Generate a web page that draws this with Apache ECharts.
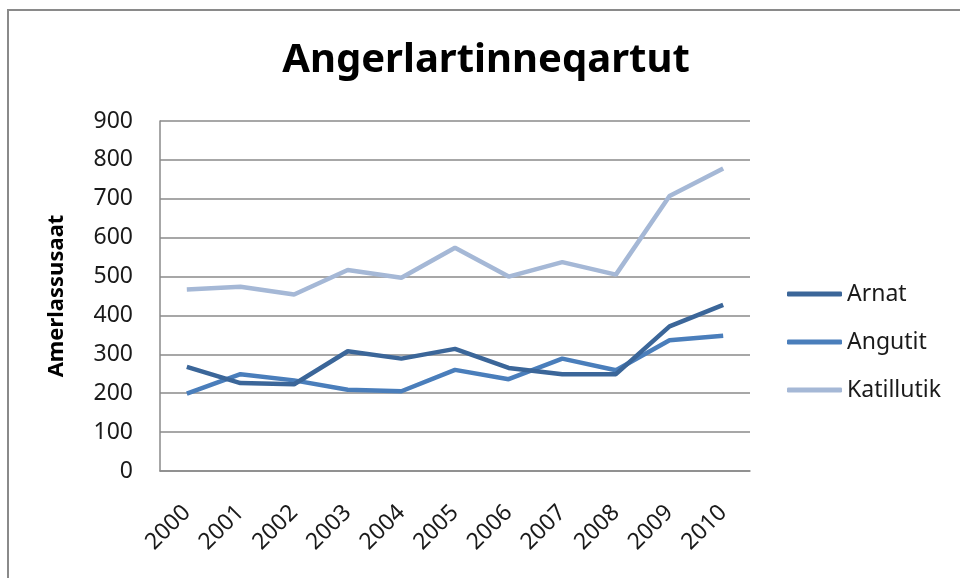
<!DOCTYPE html>
<html>
<head>
<meta charset="utf-8">
<script src="https://cdn.jsdelivr.net/npm/echarts@6/dist/echarts.min.js"></script>
<style>
html,body{margin:0;padding:0;background:#fff;}
#main{width:960px;height:578px;}
</style>
</head>
<body>
<div id="main"></div>
<script>
const years = ['2000','2001','2002','2003','2004','2005','2006','2007','2008','2009','2010'];
const arnat = [268, 226, 223, 308, 289, 314, 265, 249, 249, 372, 427];
const angutit = [199, 249, 233, 209, 205, 260, 236, 289, 259, 336, 348];
const katillutik = [467, 474, 454, 517, 497, 574, 500, 537, 505, 707, 778];
const yTicks = [0, 100, 200, 300, 400, 500, 600, 700, 800, 900];

const FONT = 'Noto Sans';
const chart = echarts.init(document.getElementById('main'), null, {renderer: 'canvas'});
chart.setOption({
  backgroundColor: '#ffffff',
  animation: false,
  graphic: [{
    type: 'rect',
    shape: {x: 8, y: 10, width: 1000, height: 1000},
    style: {fill: 'none', stroke: '#8a8a8a', lineWidth: 2},
    silent: true, z: -1
  }],
  title: {
    text: 'Angerlartinneqartut',
    left: 486, top: 41, textAlign: 'center', padding: 0,
    textStyle: {fontFamily: FONT, fontSize: 40, fontWeight: 'bold', color: '#000'}
  },
  legend: {
    orient: 'vertical',
    left: 787, top: 282, padding: 0,
    itemWidth: 55, itemHeight: 5, itemGap: 24,
    icon: 'roundRect',
    textStyle: {fontFamily: FONT, fontSize: 23, color: '#1a1a1a', lineHeight: 24, padding: [0,0,0,0]},
    data: ['Arnat', 'Angutit', 'Katillutik']
  },
  grid: {left: 160, right: 210, top: 121, bottom: 107, containLabel: false},
  xAxis: {
    type: 'category',
    data: years,
    boundaryGap: true,
    axisLine: {lineStyle: {color: '#8a8a8a', width: 1.5}},
    axisTick: {show: false},
    axisLabel: {rotate: 45, margin: 38, fontFamily: FONT, fontSize: 23, color: '#1a1a1a'}
  },
  yAxis: {
    type: 'value',
    min: 0, max: 900, interval: 100,
    name: 'Amerlassusaat',
    nameLocation: 'middle',
    nameGap: 92,
    nameTextStyle: {fontFamily: FONT, fontSize: 22, fontWeight: 'bold', color: '#000'},
    axisLine: {show: true, lineStyle: {color: '#8a8a8a', width: 1.5}},
    axisTick: {show: false},
    axisLabel: {margin: 27, fontFamily: FONT, fontSize: 23, color: '#1a1a1a',
      formatter: v => yTicks.includes(v) ? String(v) : ''},
    splitLine: {lineStyle: {color: '#8a8a8a', width: 1.5}}
  },
  series: [
    {name: 'Arnat', type: 'line', data: arnat, symbol: 'none',
     lineStyle: {width: 4.5, color: '#3B6699'}, itemStyle: {color: '#3B6699'}, z: 3},
    {name: 'Angutit', type: 'line', data: angutit, symbol: 'none',
     lineStyle: {width: 4.5, color: '#4A7EBB'}, itemStyle: {color: '#4A7EBB'}, z: 2},
    {name: 'Katillutik', type: 'line', data: katillutik, symbol: 'none',
     lineStyle: {width: 4.5, color: '#A5B8D6'}, itemStyle: {color: '#A5B8D6'}, z: 1}
  ]
});
</script>
</body>
</html>
